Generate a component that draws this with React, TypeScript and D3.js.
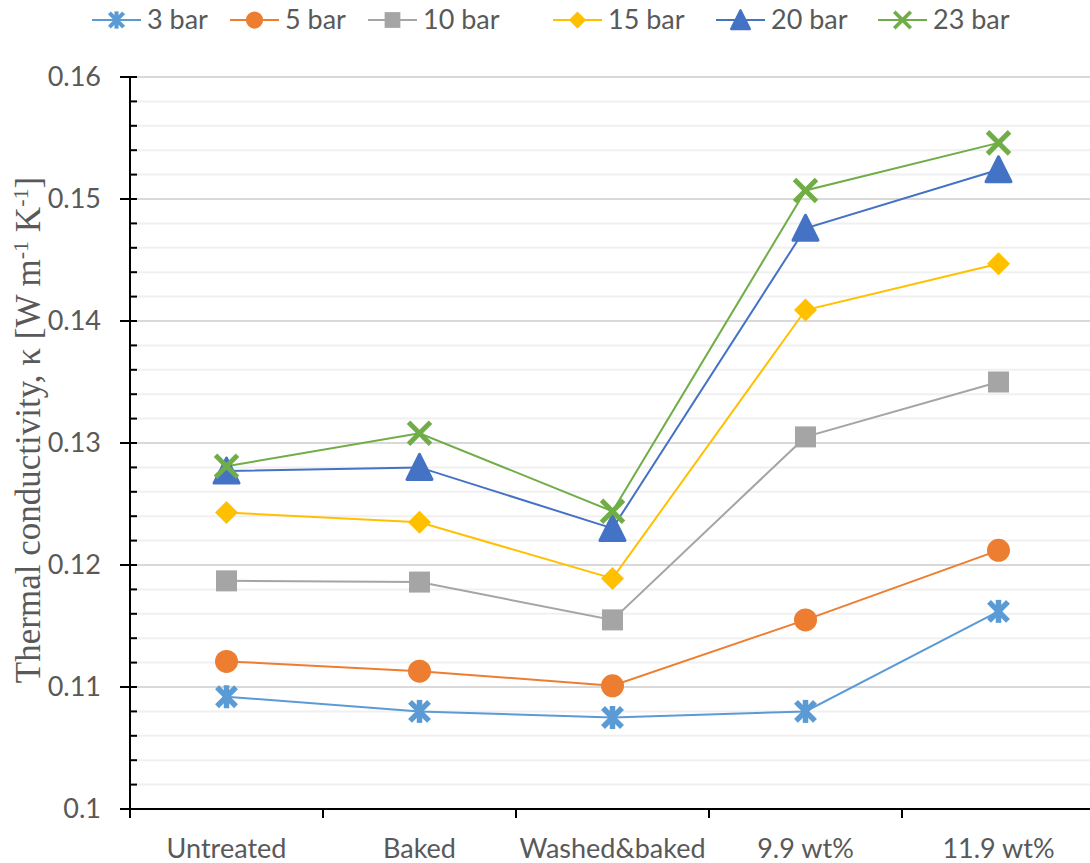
import React from "react";
import * as d3 from "d3";

const categories = ["Untreated", "Baked", "Washed&baked", "9.9 wt%", "11.9 wt%"];
const seriesNames = ["3 bar", "5 bar", "10 bar", "15 bar", "20 bar", "23 bar"];
const bar3 = [0.1092, 0.1080, 0.1075, 0.1080, 0.1162];
const bar5 = [0.1121, 0.1113, 0.1101, 0.1155, 0.1212];
const bar10 = [0.1187, 0.1186, 0.1155, 0.1305, 0.1350];
const bar15 = [0.1243, 0.1235, 0.1189, 0.1409, 0.1447];
const bar20 = [0.1277, 0.1280, 0.1230, 0.1476, 0.1524];
const bar23 = [0.1281, 0.1308, 0.1244, 0.1507, 0.1546];
const yTickLabels = ["0.1", "0.11", "0.12", "0.13", "0.14", "0.15", "0.16"];
const seriesColors = ["#5B9BD5", "#ED7D31", "#A5A5A5", "#FFC000", "#4472C4", "#70AD47"];
const markerKinds = ["star", "circle", "square", "diamond", "triangle", "x"];

const W = 1090;
const H = 863;
const left = 130;
const top = 77;
const bottom = 809;

const LABEL_FONT = "Lato, 'Open Sans', sans-serif";
const TEXT_GREY = "#595959";

function Marker({ kind, color, cx, cy, s = 1 }: { kind: string; color: string; cx: number; cy: number; s?: number }) {
  const t = `translate(${cx},${cy}) scale(${s})`;
  switch (kind) {
    case "star":
      return (
        <g transform={t} stroke={color} strokeWidth={5.5} strokeLinecap="butt">
          <line x1={-9.5} y1={-9.5} x2={9.5} y2={9.5} />
          <line x1={-9.5} y1={9.5} x2={9.5} y2={-9.5} />
          <line x1={0} y1={-11.5} x2={0} y2={11.5} />
        </g>
      );
    case "circle":
      return <circle transform={t} r={11.5} fill={color} />;
    case "square":
      return <rect transform={t} x={-10.5} y={-10.5} width={21} height={21} fill={color} />;
    case "diamond":
      return <path transform={t} d="M0,-11.5L11.5,0L0,11.5L-11.5,0Z" fill={color} />;
    case "triangle":
      return (
        <path
          transform={t}
          d="M0,-13L12.5,12L-12.5,12Z"
          fill={color}
          stroke={color}
          strokeWidth={3}
          strokeLinejoin="round"
        />
      );
    case "x":
      return (
        <g transform={t} stroke={color} strokeWidth={5}>
          <line x1={-11} y1={-11} x2={11} y2={11} />
          <line x1={-11} y1={11} x2={11} y2={-11} />
        </g>
      );
    default:
      return null;
  }
}

export default function App() {
  const seriesValues = [bar3, bar5, bar10, bar15, bar20, bar23];

  const x = d3.scaleBand<string>().domain(categories).range([left, left + 193 * 5]).padding(0);
  const y = d3.scaleLinear().domain([0.1, 0.16]).range([bottom, top]);
  const cx = (c: string) => (x(c) as number) + x.bandwidth() / 2;

  const majorTicks = yTickLabels.map((l) => +l);
  const minorTicks = y.ticks(30).filter((v) => !majorTicks.some((m) => Math.abs(m - v) < 1e-9));

  const line = d3
    .line<[string, number]>()
    .x((d) => cx(d[0]))
    .y((d) => y(d[1]));

  const legendX = [92, 230, 368, 553, 716, 878];

  return (
    <svg
      width={W}
      height={H}
      style={{ position: "absolute", left: 0, top: 0, background: "#fff" }}
      fontFamily={LABEL_FONT}
    >
      <rect width={W} height={H} fill="#fff" />
      {/* minor gridlines */}
      {minorTicks.map((v) => (
        <line key={"mg" + v} x1={left} x2={W} y1={y(v)} y2={y(v)} stroke="#f0f0f0" strokeWidth={2} />
      ))}
      {/* major gridlines */}
      {majorTicks.map((v) => (
        <line key={"Mg" + v} x1={left} x2={W} y1={y(v)} y2={y(v)} stroke="#d9d9d9" strokeWidth={2} />
      ))}

      {/* axes */}
      <line x1={left} x2={left} y1={top} y2={bottom + 9} stroke="#000" strokeWidth={2} />
      <line x1={left} x2={W} y1={bottom} y2={bottom} stroke="#000" strokeWidth={2} />
      {minorTicks.map((v) => (
        <line key={"mt" + v} x1={left} x2={left + 7} y1={y(v)} y2={y(v)} stroke="#000" strokeWidth={2} />
      ))}
      {majorTicks.map((v) => (
        <line key={"Mt" + v} x1={left - 10} x2={left + 7} y1={y(v)} y2={y(v)} stroke="#000" strokeWidth={2} />
      ))}
      {categories.map((c) => (
        <line
          key={"xt" + c}
          x1={x(c) as number}
          x2={x(c) as number}
          y1={bottom}
          y2={bottom + 9}
          stroke="#000"
          strokeWidth={2}
        />
      ))}

      {/* y tick labels */}
      {yTickLabels.map((l) => (
        <text
          key={"yl" + l}
          x={101}
          y={y(+l)}
          dy="0.35em"
          textAnchor="end"
          fontSize={27}
          fill={TEXT_GREY}
        >
          {l}
        </text>
      ))}

      {/* x tick labels */}
      {categories.map((c) => (
        <text key={"xl" + c} x={cx(c)} y={858} textAnchor="middle" fontSize={27} fill={TEXT_GREY}>
          {c}
        </text>
      ))}

      {/* y axis title */}
      <text
        transform={`translate(40,${430}) rotate(-90)`}
        textAnchor="middle"
        fontFamily="'Liberation Serif', 'Times New Roman', serif"
        fontSize={35}
        fill={TEXT_GREY}
      >
        Thermal conductivity, κ [W m<tspan baseline-shift="super" fontSize={22}>-1</tspan> K
        <tspan baseline-shift="super" fontSize={22}>-1</tspan>]
      </text>

      {/* series lines */}
      {seriesValues.map((vals, i) => (
        <path
          key={"ln" + i}
          d={line(categories.map((c, j) => [c, vals[j]] as [string, number])) as string}
          fill="none"
          stroke={seriesColors[i]}
          strokeWidth={2}
        />
      ))}
      {/* series markers */}
      {seriesValues.map((vals, i) => (
        <g key={"mk" + i}>
          {categories.map((c, j) => (
            <Marker key={c} kind={markerKinds[i]} color={seriesColors[i]} cx={cx(c)} cy={y(vals[j])} />
          ))}
        </g>
      ))}

      {/* legend */}
      {seriesNames.map((n, i) => (
        <g key={"lg" + n}>
          <line x1={legendX[i]} x2={legendX[i] + 49} y1={20} y2={20} stroke={seriesColors[i]} strokeWidth={2} />
          <Marker kind={markerKinds[i]} color={seriesColors[i]} cx={legendX[i] + 24.5} cy={20} s={0.75} />
          <text x={legendX[i] + 55} y={20} dy="0.35em" fontSize={27} fill={TEXT_GREY}>
            {n}
          </text>
        </g>
      ))}
    </svg>
  );
}
